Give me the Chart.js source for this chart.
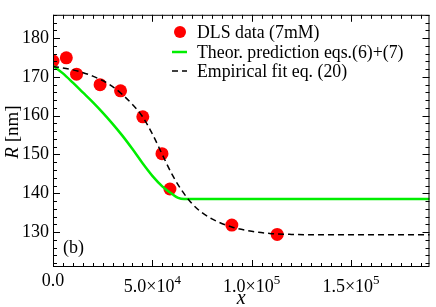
<!DOCTYPE html>
<html>
<head>
<meta charset="utf-8">
<script src="https://cdn.jsdelivr.net/npm/chart.js@4"></script>
<style>
html, body { margin: 0; padding: 0; background: #fff; }
#wrap { width: 436px; height: 307px; }
</style>
</head>
<body>
<div id="wrap"><canvas id="chart"></canvas></div>
<script>
// DLS measurements
const dlsX = [0, 6700, 11850, 23700, 34000, 45200, 54850, 58850, 90000, 112850];
const dlsR = [174.1, 174.9, 170.7, 168.0, 166.4, 159.7, 150.2, 141.1, 131.8, 129.4];

// theoretical prediction eqs.(6)+(7)
const theoX = [0, 5000, 10000, 15000, 20000, 25000, 30000, 35000, 40000, 45000, 50000, 55000, 60000, 63000, 66000, 190000];
const theoR = [172.9, 170.9, 168.5, 166.0, 163.5, 160.8, 157.9, 154.8, 151.4, 147.8, 144.5, 141.8, 139.8, 138.8, 138.5, 138.5];

// empirical fit eq. (20)
const fitX = [0, 10000, 20000, 30000, 40000, 45000, 50000, 55000, 60000, 65000, 70000, 75000, 80000, 90000, 100000, 110000, 120000, 140000, 190000];
const fitR = [172.7, 171.8, 170.2, 167.5, 162.9, 159.8, 155.3, 150.0, 144.8, 140.6, 137.3, 135.0, 133.4, 131.3, 130.2, 129.6, 129.4, 129.3, 129.3];

const xTickValues = [0, 50000, 100000, 150000];
const xTickLabels = ['0.0', '5.0×10^4', '1.0×10^5', '1.5×10^5'];
const yTickValues = [130, 140, 150, 160, 170, 180];

const legendLabels = ['DLS data (7mM)', 'Theor. prediction eqs.(6)+(7)', 'Empirical fit eq. (20)'];

const serif = '"Liberation Serif"';

function toPoints(xs, ys) {
    return xs.map((x, i) => ({ x: x, y: ys[i] }));
}

// рамка, засечки внутрь, подписи оси x, легенда
const decorPlugin = {
    id: 'decor',
    afterDraw(chart) {
        const ctx = chart.ctx;
        const a = chart.chartArea;
        const xs = chart.scales.x;
        const ys = chart.scales.y;
        ctx.save();

        ctx.strokeStyle = '#000';
        ctx.lineWidth = 1;
        ctx.strokeRect(a.left + 0.5, a.top + 0.5, a.right - a.left - 1, a.bottom - a.top - 1);

        ctx.beginPath();
        for (let v = 0; v <= xs.max; v += 5000) {
            const p = Math.round(xs.getPixelForValue(v)) + 0.5;
            const len = v % 50000 === 0 ? 7 : 4;
            ctx.moveTo(p, a.bottom); ctx.lineTo(p, a.bottom - len);
            ctx.moveTo(p, a.top); ctx.lineTo(p, a.top + len);
        }
        for (let v = 122; v <= ys.max; v += 2) {
            const p = Math.round(ys.getPixelForValue(v)) + 0.5;
            const len = v % 10 === 0 ? 7 : 4;
            ctx.moveTo(a.left, p); ctx.lineTo(a.left + len, p);
            ctx.moveTo(a.right, p); ctx.lineTo(a.right - len, p);
        }
        ctx.stroke();

        // подписи оси x с показателями степени
        ctx.fillStyle = '#000';
        ctx.textBaseline = 'alphabetic';
        ctx.textAlign = 'left';
        xTickValues.forEach((v, i) => {
            const px = xs.getPixelForValue(v);
            const parts = xTickLabels[i].split('^');
            ctx.font = '18px ' + serif;
            if (parts.length === 1) {
                const w = ctx.measureText(parts[0]).width;
                ctx.fillText(parts[0], px - w / 2, 286);
            } else {
                const w1 = ctx.measureText(parts[0]).width;
                ctx.font = '13px ' + serif;
                const w2 = ctx.measureText(parts[1]).width;
                const x0 = px - (w1 + w2) / 2;
                ctx.font = '18px ' + serif;
                ctx.fillText(parts[0], x0, 292);
                ctx.font = '13px ' + serif;
                ctx.fillText(parts[1], x0 + w1, 284);
            }
        });

        // заголовки осей
        ctx.font = 'italic 20px ' + serif;
        ctx.textAlign = 'center';
        ctx.fillText('x', (a.left + a.right) / 2, 304);

        ctx.save();
        ctx.translate(18, 132);
        ctx.rotate(-Math.PI / 2);
        ctx.textAlign = 'left';
        ctx.font = 'italic 19px ' + serif;
        const wR = ctx.measureText('R').width;
        ctx.font = '19px ' + serif;
        const wN = ctx.measureText(' [nm]').width;
        const sx = -(wR + wN) / 2;
        ctx.font = 'italic 19px ' + serif;
        ctx.fillText('R', sx, 0);
        ctx.font = '19px ' + serif;
        ctx.fillText(' [nm]', sx + wR, 0);
        ctx.restore();

        ctx.font = '18px ' + serif;
        ctx.textAlign = 'left';
        ctx.fillText('(b)', 63, 253);

        // легенда
        const ds = chart.data.datasets;
        const rows = [32, 52, 71];
        ctx.textBaseline = 'middle';
        ctx.font = '17.8px ' + serif;
        rows.forEach((y, i) => {
            if (i === 0) {
                ctx.fillStyle = ds[0].backgroundColor;
                ctx.beginPath();
                ctx.arc(180, y, 6, 0, Math.PI * 2);
                ctx.fill();
            } else {
                ctx.strokeStyle = ds[i].borderColor;
                ctx.lineWidth = ds[i].borderWidth;
                ctx.setLineDash(ds[i].borderDash || []);
                ctx.beginPath();
                ctx.moveTo(172, y);
                ctx.lineTo(187, y);
                ctx.stroke();
                ctx.setLineDash([]);
            }
            ctx.fillStyle = '#000';
            ctx.fillText(legendLabels[i], 197, y + 1);
        });

        ctx.restore();
    }
};

new Chart(document.getElementById('chart'), {
    type: 'scatter',
    data: {
        datasets: [
            {
                label: legendLabels[0],
                data: toPoints(dlsX, dlsR),
                backgroundColor: '#ff0000',
                borderWidth: 0,
                pointRadius: 6.5,
                showLine: false,
                order: 3
            },
            {
                label: legendLabels[1],
                data: toPoints(theoX, theoR),
                borderColor: '#00ee00',
                borderWidth: 2.5,
                pointRadius: 0,
                showLine: true,
                cubicInterpolationMode: 'monotone',
                order: 2
            },
            {
                label: legendLabels[2],
                data: toPoints(fitX, fitR),
                borderColor: '#000000',
                borderWidth: 1.5,
                borderDash: [6, 4],
                pointRadius: 0,
                showLine: true,
                cubicInterpolationMode: 'monotone',
                order: 1
            }
        ]
    },
    options: {
        responsive: true,
        maintainAspectRatio: false,
        animation: false,
        layout: { padding: { top: 1, right: 4, left: 0, bottom: 0 } },
        plugins: {
            legend: { display: false },
            tooltip: { enabled: false }
        },
        scales: {
            x: {
                type: 'linear',
                min: 0,
                max: 189500,
                ticks: { display: false },
                grid: { display: false, drawTicks: false },
                border: { display: false },
                afterFit(s) { s.height = 40; }
            },
            y: {
                min: 121,
                max: 186,
                afterBuildTicks(s) { s.ticks = yTickValues.map(v => ({ value: v })); },
                ticks: {
                    padding: 4,
                    color: '#000',
                    font: { family: serif, size: 18 }
                },
                grid: { display: false, drawTicks: false },
                border: { display: false },
                afterFit(s) { s.width = 53; }
            }
        }
    },
    plugins: [decorPlugin]
});
</script>
</body>
</html>
